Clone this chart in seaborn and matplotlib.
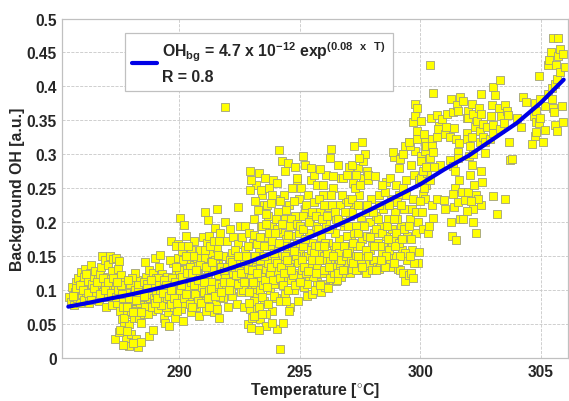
import pandas as pd
import matplotlib
matplotlib.use("Agg")
import matplotlib.pyplot as plt
import seaborn as sns

# (temperature, background OH), by temperature band
band_286 = [
    (285.42,.090),(285.5,.083),(285.55,.105),(285.62,.079),(285.66,.098),(285.7,.112),(285.75,.088),(285.8,.118),
    (285.84,.101),(285.88,.082),(285.92,.127),(285.96,.094),(286.0,.110),(286.03,.086),(286.06,.120),(286.1,.132),
    (286.13,.097),(286.17,.105),(286.2,.114),(286.24,.082),(286.27,.091),(286.3,.125),(286.33,.138),(286.36,.100),
    (286.4,.110),(286.44,.088),(286.48,.120),(286.52,.128),(286.56,.095),(286.6,.106),(286.64,.116),(286.68,.085),
    (286.72,.124),(286.76,.134),(286.8,.151),(286.84,.098),(286.88,.110),(286.92,.145),(286.96,.076),(287.0,.120),
    (287.03,.138),(287.06,.090),(287.1,.103),(287.13,.150),(287.17,.112),(287.2,.128),(287.23,.078),(287.27,.146),
    (287.3,.095),(287.33,.105),(287.36,.148),(287.4,.082),(287.44,.116),(287.47,.132),(287.5,.143),(287.54,.070),
    (287.57,.090),(287.6,.122),(287.63,.058),(287.67,.102),(287.7,.047),(287.72,.040),(287.76,.112),(287.8,.028),
    (287.83,.065),(287.86,.082),(287.9,.050),(287.93,.018),(287.96,.094),(288.0,.036),(288.03,.075),(288.06,.105),
    (287.35,.028),(287.5,.038),(287.65,.020),(287.72,.060),(288.2,.028),(288.3,.017),(288.42,.024),(288.1,.022),
    (287.55,.042),(287.85,.040),(288.12,.060),(288.2,.072),(288.3,.090),(288.35,.060),(288.4,.052),(288.25,.115),
    (288.45,.078),(288.5,.100),(288.55,.065),(288.62,.120),(288.7,.085),(288.76,.033),(288.85,.108),(288.92,.042),
    (288.15,.125),(288.05,.118),(287.95,.108),(287.85,.098),(288.0,.088),(288.12,.094),(287.75,.082),(287.65,.075),
    (285.6,.092),(285.72,.103),(285.9,.108),(286.02,.100),(286.15,.124),(286.22,.096),(286.35,.086),(286.46,.104),
    (286.58,.112),(286.7,.094),(286.82,.118),(286.94,.100),(287.05,.112),(287.15,.096),(287.25,.118),(287.38,.090),
    (287.48,.100),(287.58,.108),(287.68,.088),(287.78,.096),(287.88,.115),(287.98,.070),(288.08,.084),(288.18,.100),
    (288.28,.108),(288.38,.082),(288.48,.090),(288.58,.075),(288.68,.098),(288.78,.088),(287.62,.095),(287.92,.088),
    (287.42,.112),(287.82,.075),(288.22,.086),(288.52,.112),(288.88,.070),(288.72,.065),(288.4,.068),(288.1,.068),
]
band_289 = [
    (288.6,.142),(288.68,.110),(288.75,.130),(288.8,.095),(288.86,.076),(288.9,.126),(288.95,.088),(289.0,.148),
    (289.05,.118),(289.1,.100),(289.13,.072),(289.18,.134),(289.22,.090),(289.27,.124),(289.3,.108),(289.35,.060),
    (289.4,.082),(289.42,.052),(289.46,.098),(289.5,.120),(289.55,.068),(289.58,.048),(289.62,.108),(289.66,.172),
    (289.7,.090),(289.73,.140),(289.78,.075),(289.82,.060),(289.85,.125),(289.9,.102),(289.93,.148),(289.97,.168),
    (290.0,.085),(290.03,.118),(290.07,.072),(290.1,.158),(290.14,.055),(290.18,.132),(290.2,.094),(290.03,.207),
    (290.27,.108),(290.3,.180),(290.34,.082),(290.37,.146),(290.4,.122),(290.2,.196),(290.47,.068),(290.5,.160),
    (290.52,.100),(290.56,.090),(290.6,.138),(290.63,.172),(290.67,.115),(290.7,.076),(290.73,.148),(290.77,.104),
    (290.8,.128),(290.83,.062),(290.87,.160),(290.9,.092),(290.94,.118),(290.98,.178),(291.0,.136),(291.03,.084),
    (289.2,.152),(289.6,.145),(289.85,.165),(290.15,.145),(290.45,.135),(289.72,.118),(289.3,.085),(290.0,.130),
    (289.9,.070),(289.45,.075),(290.25,.115),(290.35,.105),(290.6,.080),(290.85,.100),(289.1,.118),(288.95,.108),
    (291.05,.148),(291.06,.215),(291.1,.108),(291.13,.070),(291.16,.170),(291.2,.125),(291.23,.180),(291.27,.092),
    (291.3,.142),(291.2,.203),(291.37,.155),(291.4,.112),(291.43,.068),(291.47,.192),(291.5,.130),(291.54,.082),
    (291.58,.162),(291.6,.100),(291.63,.140),(291.67,.060),(291.7,.185),(291.73,.118),(291.55,.220),(291.8,.088),
    (289.02,.098),(289.15,.108),(289.25,.078),(289.38,.115),(289.48,.088),(289.52,.103),(289.65,.080),(289.76,.100),
    (289.83,.112),(289.95,.092),(290.05,.100),(290.12,.120),(290.22,.082),(290.32,.125),(290.42,.092),(290.48,.112),
    (290.58,.150),(290.65,.095),(290.72,.125),(290.8,.085),(290.88,.138),(290.95,.105),(291.02,.098),(291.08,.160),
    (291.14,.120),(291.22,.100),(291.28,.165),(291.35,.130),(291.42,.095),(291.48,.145),(291.52,.110),(291.62,.122),
    (291.7,.150),(291.78,.105),(290.55,.125),(290.28,.150),(290.12,.165),(289.88,.135),(290.62,.108),(290.38,.165),
    (291.12,.135),(291.32,.112),(291.45,.172),(291.65,.172),(291.75,.135),(291.68,.090),(291.25,.075),(291.55,.072),
]
band_292 = [
    (291.83,.150),(291.87,.128),(291.9,.200),(291.92,.370),(291.95,.105),(292.0,.172),(292.03,.076),(292.07,.138),
    (292.1,.190),(292.13,.118),(292.17,.155),(292.2,.092),(292.25,.178),(292.28,.130),(292.32,.108),(292.35,.145),
    (292.38,.080),(292.45,.222),(292.45,.168),(292.48,.115),(292.52,.195),(292.55,.098),(292.58,.150),(292.62,.178),
    (292.65,.128),(292.68,.075),(292.72,.160),(292.75,.195),(292.78,.108),(292.82,.142),(292.85,.050),(292.88,.120),
    (292.9,.185),(292.93,.072),(292.97,.150),(293.0,.100),(293.03,.060),(293.07,.170),(293.1,.205),(293.13,.130),
    (293.17,.090),(293.2,.255),(293.22,.072),(293.26,.115),(293.3,.160),(293.33,.272),(293.37,.058),(293.4,.195),
    (293.42,.240),(293.46,.140),(293.5,.225),(293.53,.085),(293.57,.265),(293.6,.048),(293.63,.178),(293.67,.120),
    (293.7,.210),(293.73,.250),(293.77,.100),(293.8,.150),(293.83,.070),(293.87,.195),(293.9,.262),(293.93,.130),
    (293.97,.235),(294.0,.165),(294.03,.088),(294.07,.258),(294.1,.215),(294.13,.110),(294.04,.043),(294.2,.014),
    (294.22,.185),(294.25,.290),(294.3,.140),(294.33,.240),(294.37,.095),(294.4,.205),(294.3,.052),(294.47,.160),
    (294.52,.288),(294.53,.120),(294.57,.225),(294.6,.075),(294.63,.180),(294.67,.250),(294.7,.100),(294.73,.145),
    (294.15,.307),(294.8,.210),(294.83,.125),(294.87,.262),(294.9,.170),(294.93,.085),(294.97,.235),(295.0,.155),
    (293.25,.150),(293.45,.195),(293.65,.225),(293.85,.240),(294.05,.190),(294.25,.125),(294.45,.175),(294.65,.205),
    (292.95,.125),(293.15,.110),(293.35,.100),(293.55,.130),(293.75,.165),(293.95,.110),(294.15,.150),(294.35,.165),
    (294.55,.135),(294.75,.100),(294.95,.120),(292.15,.100),(292.4,.135),(292.65,.100),(292.85,.165),(293.05,.140),
    (292.93,.275),(292.97,.263),(292.93,.247),(294.39,.275),(294.8,.281),(294.9,.266),(293.15,.232),(293.28,.218),
    (293.4,.248),(293.6,.212),(293.8,.228),(294.0,.205),(294.2,.232),(294.45,.218),(294.6,.195),(294.75,.232),
    (294.88,.198),(293.1,.182),(293.22,.168),(293.35,.178),(293.5,.165),(293.62,.198),(293.72,.185),(293.85,.172),
    (293.98,.185),(294.12,.170),(294.28,.198),(294.4,.150),(294.52,.182),(294.7,.165),(294.85,.150),(294.98,.185),
    (291.92,.118),(292.05,.100),(292.12,.145),(292.22,.125),(292.3,.160),(292.42,.110),(292.5,.135),(292.6,.118),
    (292.7,.140),(292.78,.125),(292.88,.098),(292.98,.118),(293.08,.112),(293.18,.135),(293.28,.132),(293.38,.120),
    (293.48,.108),(293.58,.115),(293.68,.140),(293.78,.125),(293.88,.115),(293.98,.145),(294.08,.128),(294.18,.118),
    (294.3,.108),(294.42,.130),(294.5,.100),(294.62,.115),(294.72,.122),(294.82,.108),(294.92,.140),(293.1,.085),
    (293.3,.075),(293.45,.090),(293.7,.080),(293.95,.092),(294.2,.085),(294.45,.085),(294.55,.070),(293.12,.062),
    (292.98,.045),(293.3,.042),(293.6,.065),(293.85,.052),(293.42,.065),(292.9,.082),
]
band_296 = [
    (295.03,.195),(295.05,.250),(295.08,.130),(295.15,.298),(295.13,.165),(295.17,.105),(295.2,.220),(295.23,.285),
    (295.27,.150),(295.3,.092),(295.33,.240),(295.37,.185),(295.4,.120),(295.42,.205),(295.46,.262),(295.5,.095),
    (295.53,.170),(295.57,.140),(295.6,.230),(295.63,.100),(295.67,.195),(295.7,.112),(295.73,.255),(295.77,.155),
    (295.88,.097),(295.83,.215),(295.87,.130),(295.9,.178),(295.93,.110),(295.97,.240),(296.0,.150),(296.03,.105),
    (296.07,.198),(296.1,.270),(296.13,.125),(296.17,.170),(296.18,.104),(296.23,.222),(296.27,.145),(296.28,.308),
    (296.33,.190),(296.37,.115),(296.4,.250),(296.43,.160),(296.25,.294),(296.5,.205),(296.53,.135),(296.57,.285),
    (296.5,.114),(296.63,.175),(296.67,.225),(296.7,.120),(296.73,.265),(296.77,.150),(296.8,.265),(296.83,.195),
    (296.87,.125),(296.9,.235),(296.93,.165),(296.97,.135),(297.0,.140),(297.03,.282),(297.07,.210),(297.1,.125),
    (297.13,.180),(297.17,.132),(297.2,.258),(297.23,.150),(297.27,.225),(297.26,.313),(297.33,.195),(297.37,.165),
    (297.4,.280),(297.43,.130),(297.47,.240),(297.5,.135),(297.53,.208),(297.59,.319),(297.6,.175),(297.63,.265),
    (295.15,.190),(295.35,.150),(295.55,.120),(295.75,.190),(295.95,.125),(296.15,.145),(296.35,.225),(296.55,.115),
    (296.75,.200),(296.95,.180),(297.15,.215),(297.35,.130),(297.55,.145),(295.25,.125),(295.45,.160),(295.65,.165),
    (295.85,.108),(296.05,.170),(296.25,.118),(296.45,.185),(296.65,.140),(296.85,.130),(297.05,.160),(297.25,.185),
    (295.1,.145),(295.22,.175),(295.32,.110),(295.44,.135),(295.58,.155),(295.72,.135),(295.82,.165),(295.92,.145),
    (296.02,.130),(296.12,.155),(296.22,.190),(296.32,.135),(296.42,.125),(296.52,.165),(296.62,.155),(296.72,.145),
    (296.82,.165),(296.92,.150),(297.02,.195),(297.12,.145),(297.22,.170),(297.32,.150),(297.42,.185),(297.52,.165),
    (295.12,.210),(295.28,.225),(295.38,.200),(295.52,.215),(295.68,.210),(295.8,.235),(295.92,.205),(296.02,.225),
    (296.15,.210),(296.3,.240),(296.45,.215),(296.6,.205),(296.75,.240),(296.88,.215),(297.0,.230),(297.15,.235),
    (297.3,.250),(297.4,.225),(297.5,.255),(297.62,.290),(297.72,.300),(297.35,.270),(297.18,.285),(296.95,.270),
    (297.45,.295),(297.85,.262),(297.78,.275),(296.38,.268),(295.6,.270),(295.85,.278),(295.95,.255),(295.48,.280),
]
band_298 = [
    (297.67,.150),(297.7,.132),(297.73,.215),(297.77,.125),(297.8,.180),(297.83,.270),(297.87,.140),(297.9,.200),
    (297.93,.160),(297.97,.235),(298.0,.130),(298.03,.145),(298.07,.185),(298.1,.145),(298.13,.268),(298.17,.210),
    (298.2,.135),(298.23,.170),(298.3,.131),(298.3,.240),(298.33,.135),(298.37,.195),(298.4,.150),(298.43,.155),
    (298.47,.220),(298.5,.135),(298.53,.165),(298.57,.180),(298.6,.260),(298.63,.145),(298.67,.205),(298.67,.136),
    (298.73,.165),(298.77,.148),(298.8,.235),(298.83,.190),(298.87,.135),(298.9,.296),(298.93,.150),(298.97,.215),
    (299.0,.150),(299.03,.175),(299.07,.132),(299.1,.280),(299.13,.240),(299.17,.130),(299.2,.195),(299.23,.160),
    (299.27,.300),(299.3,.125),(299.33,.220),(299.36,.114),(299.4,.262),(299.43,.178),(299.47,.145),(299.52,.122),
    (299.53,.318),(299.57,.205),(299.6,.285),(299.63,.125),(299.67,.160),(299.71,.347),(299.73,.270),(299.68,.118),
    (299.79,.374),(299.8,.305),(299.83,.185),(299.87,.369),(299.9,.140),(299.93,.262),(299.96,.156),(300.0,.215),
    (298.15,.130),(298.45,.165),(298.75,.140),(299.05,.205),(299.35,.155),(299.65,.220),(298.25,.205),(298.55,.135),
    (298.85,.175),(299.15,.150),(299.45,.180),(299.75,.140),(299.36,.313),(299.57,.313),(299.85,.334),(299.79,.356),
    (297.68,.195),(297.8,.225),(297.92,.178),(298.05,.215),(298.18,.190),(298.28,.225),(298.42,.185),(298.52,.245),
    (298.62,.195),(298.72,.225),(298.82,.165),(298.92,.205),(299.02,.230),(299.12,.170),(299.22,.225),(299.32,.190),
    (299.42,.240),(299.52,.195),(299.62,.175),(299.72,.235),(299.82,.215),(299.92,.200),(298.85,.303),(299.15,.293),
    (298.7,.160),(298.98,.185),(299.29,.301),(299.53,.319),(299.85,.322),(298.0,.165),(298.35,.165),(297.75,.160),
    (298.6,.150),(298.95,.165),(299.25,.175),(299.58,.150),(298.4,.255),(298.75,.265),(299.0,.255),(299.3,.250),
]
band_301 = [
    (300.05,.349),(300.05,.298),(300.05,.290),(300.1,.242),(300.16,.330),(300.19,.319),(300.19,.305),(300.23,.313),
    (300.25,.255),(300.39,.431),(300.4,.294),(300.43,.353),(300.47,.322),(300.47,.313),(300.51,.391),(300.51,.303),
    (300.68,.358),(300.68,.325),(300.76,.342),(300.75,.337),(300.8,.284),(300.92,.352),(301.02,.330),(301.06,.341),
    (301.09,.360),(301.23,.325),(301.23,.292),(301.28,.381),(301.37,.363),(301.37,.283),(301.42,.339),(301.5,.322),
    (301.52,.372),(301.57,.364),(301.57,.303),(301.57,.294),(301.6,.317),(301.67,.385),(301.78,.379),(301.92,.354),
    (301.92,.332),(301.95,.322),(301.99,.364),(301.99,.353),(302.03,.298),(302.06,.313),(302.14,.374),(302.16,.325),
    (302.2,.359),(302.2,.301),(302.27,.341),(302.34,.349),(302.42,.368),(302.47,.335),(302.47,.318),(302.51,.389),
    (302.54,.359),(302.61,.345),(302.61,.325),(302.68,.318),(302.68,.302),(302.75,.340),(302.89,.323),(302.93,.357),
    (302.96,.372),(303.03,.399),(303.03,.343),(303.03,.332),(303.11,.387),(303.26,.369),(303.3,.337),(303.32,.410),
    (303.33,.356),(303.48,.346),(303.51,.372),(303.58,.364),(303.65,.358),(303.68,.318),(303.72,.292),(303.82,.293),
    (300.1,.19),(300.33,.185),(300.37,.195),(300.54,.207),(300.09,.216),(300.19,.234),(300.47,.225),(300.68,.235),
    (301.02,.22),(301.4,.222),(301.0,.233),(301.57,.23),(301.26,.2),(301.64,.205),(301.78,.205),(302.2,.22),
    (302.2,.2),(302.54,.225),(301.96,.217),(301.3,.18),(301.5,.174),(302.3,.184),(303.2,.212),(303.5,.235),
    (303.03,.239),(301.45,.275),(301.45,.250),(301.6,.262),(301.75,.245),(302.0,.245),(302.05,.270),(302.15,.285),
    (302.25,.255),(302.3,.240),(302.5,.275),(302.55,.260),(301.85,.233),(302.4,.235),(302.1,.232),(301.35,.242),
    (300.02,.265),(300.3,.272),(300.15,.250),(300.4,.262),(300.12,.275),(299.98,.232),(300.24,.282),(300.55,.282),
    (304.02,.354),(304.19,.341),(304.27,.384),(304.37,.377),(304.64,.316),(304.71,.356),(304.75,.327),(304.77,.375),
    (304.82,.364),(304.82,.348),(304.82,.333),(304.92,.416),(304.93,.346),(304.96,.381),(304.96,.354),(305.1,.319),
    (305.17,.371),(305.17,.336),(305.31,.432),(305.32,.389),(305.34,.439),(305.41,.451),(305.45,.398),(305.45,.381),
    (305.49,.368),(305.52,.472),(305.56,.363),(305.59,.403),(305.61,.343),(305.65,.432),(305.68,.411),(305.68,.334),
    (305.7,.471),(305.72,.445),(305.79,.455),(305.79,.421),(305.89,.371),(305.93,.448),(305.93,.347),(305.99,.429),
]
band_core = [
    (288.3,.098),(288.55,.092),(288.65,.104),(288.82,.115),(288.98,.082),(289.08,.088),(289.2,.100),(289.32,.096),
    (289.44,.108),(289.56,.092),(289.68,.100),(289.8,.088),(289.92,.082),(290.08,.108),(290.18,.088),(290.3,.095),
    (290.44,.080),(290.54,.076),(290.68,.130),(290.78,.115),(290.92,.082),(291.04,.112),(291.18,.088),(291.3,.102),
    (291.38,.142),(291.5,.092),(291.6,.152),(291.72,.098),(291.85,.112),(291.98,.135),(292.1,.112),(292.2,.142),
    (292.34,.122),(292.46,.150),(292.56,.125),(292.68,.112),(292.76,.150),(292.86,.132),(293.02,.130),(293.14,.150),
    (293.24,.125),(293.36,.145),(293.52,.150),(293.66,.105),(293.82,.135),(293.92,.155),(294.06,.140),(294.22,.135),
    (294.34,.125),(294.48,.145),(294.64,.130),(294.78,.158),(295.02,.112),(295.18,.135),(295.34,.128),(295.5,.145),
    (295.66,.125),(295.8,.145),(296.0,.165),(296.2,.135),(296.38,.150),(296.58,.125),(296.78,.130),(296.98,.155),
    (297.2,.140),(297.4,.150),(297.6,.135),(297.85,.150),(298.1,.165),(298.38,.145),(298.65,.175),(298.9,.140),
]

fit_temp = [285.4, 286, 287, 288, 289, 290, 291, 292, 293, 294, 295, 296, 297, 298, 299, 300, 301, 302, 303, 304, 305, 305.95]
fit_oh = [.076, .080, .087, .094, .102, .111, .120, .131, .143, .157, .172, .187, .203, .220, .238, .256, .278, .298, .322, .346, .376, .41]

x_ticks = [290, 295, 300, 305]
y_ticks = [0, .05, .1, .15, .2, .25, .3, .35, .4, .45, .5]
y_labels = ["0", "0.05", "0.1", "0.15", "0.2", "0.25", "0.3", "0.35", "0.4", "0.45", "0.5"]

sns.set_style("white")
plt.rcParams["font.family"] = ["Liberation Sans", "DejaVu Sans"]
plt.rcParams["font.weight"] = "bold"
plt.rcParams["mathtext.fontset"] = "custom"
plt.rcParams["mathtext.bf"] = "Liberation Sans:bold"
plt.rcParams["mathtext.rm"] = "Liberation Sans:bold"
plt.rcParams["mathtext.default"] = "bf"

points = band_286 + band_289 + band_292 + band_296 + band_298 + band_301 + band_core
df = pd.DataFrame(points, columns=["temp", "oh"])

fig = plt.figure(figsize=(5.69, 4.02), dpi=100)
ax = fig.add_axes([62.3 / 569, 1 - 359.3 / 402, (568 - 62.3) / 569, (359.3 - 19.5) / 402])

sns.scatterplot(data=df, x="temp", y="oh", marker="s", s=27, color="#ffff00",
                edgecolor="#a0a07c", linewidth=0.6, ax=ax, zorder=2, clip_on=False)
sns.lineplot(x=fit_temp, y=fit_oh, color="#0000e6", linewidth=3.0, ax=ax, zorder=3,
             label="OH$_{bg}$ = 4.7 x 10$^{-12}$ exp$^{(0.08\\ \\ x\\ \\ T)}$\nR = 0.8")

ax.set_xlim(285.15, 306.13)
ax.set_ylim(0, 0.5)
ax.set_xticks(x_ticks)
ax.set_yticks(y_ticks)
ax.set_yticklabels(y_labels)
ax.tick_params(labelsize=11.2, length=0, pad=4)
ax.grid(True, color="#c8c8c8", linestyle="--", linewidth=0.6)
ax.set_axisbelow(True)
for s in ax.spines.values():
    s.set_color("#c0c0c0")
    s.set_linewidth(0.9)
ax.set_xlabel("Temperature [$^{\\circ}$C]", fontsize=11.4, fontweight="bold", labelpad=1)
ax.set_ylabel("Background OH [a.u.]", fontsize=11.4, fontweight="bold", labelpad=1)

leg = ax.legend(loc="upper left", bbox_to_anchor=(0.124, 0.958), fontsize=11.4, frameon=True, fancybox=False,
                handlelength=1.6, borderaxespad=0, borderpad=0.45, handletextpad=0.3)
leg.get_texts()[0].set_linespacing(1.5)
leg.get_frame().set_edgecolor("#c0c0c0")
leg.get_frame().set_alpha(1)
leg.get_frame().set_linewidth(0.9)

fig.savefig("out.png", dpi=100)
